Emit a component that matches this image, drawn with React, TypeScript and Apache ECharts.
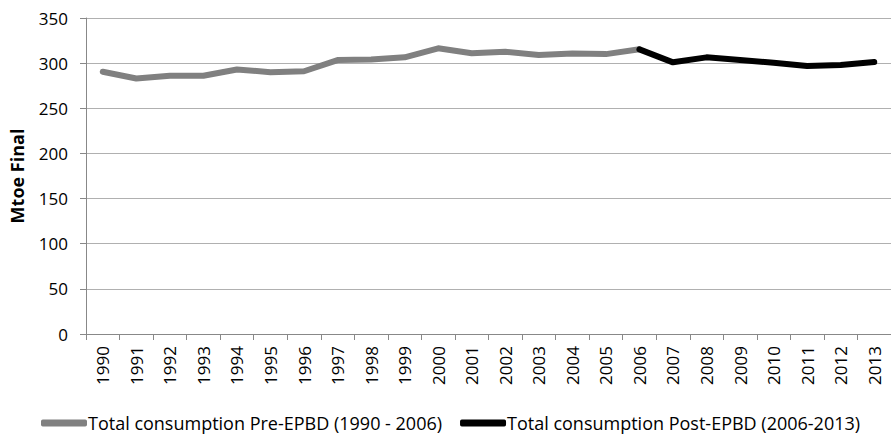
import React, { useEffect, useRef } from "react";
import * as echarts from "echarts";

const years = ["1990","1991","1992","1993","1994","1995","1996","1997","1998","1999","2000","2001","2002","2003","2004","2005","2006","2007","2008","2009","2010","2011","2012","2013"];
const preEPBD = [290.5, 283, 286, 286, 293, 290, 291, 303.4, 304, 306.4, 316.4, 311, 312.6, 309, 310.8, 310, 315.3, null, null, null, null, null, null, null];
const postEPBD = [null, null, null, null, null, null, null, null, null, null, null, null, null, null, null, null, 315.3, 300.9, 306.4, 303.4, 300.5, 296.8, 298, 301.2];
const yTicks = { min: 0, max: 350, interval: 50 };

const FONT = "Open Sans";

export default function App() {
  const ref = useRef<HTMLDivElement>(null);
  useEffect(() => {
    const chart = echarts.init(ref.current!, undefined, { renderer: "svg" });
    chart.setOption({
      animation: false,
      backgroundColor: "#ffffff",
      textStyle: { fontFamily: FONT },
      grid: { left: 86, right: -9, top: 18, bottom: 100, containLabel: false },
      legend: {
        left: 36,
        top: 409,
        itemWidth: 46,
        itemHeight: 7,
        itemGap: 18,
        icon: "roundRect",
        textStyle: { fontFamily: FONT, fontSize: 18, color: "#000", padding: [0, 0, 0, -4] },
        data: ["Total consumption Pre-EPBD (1990 - 2006)", "Total consumption Post-EPBD (2006-2013)"],
      },
      xAxis: {
        type: "category",
        data: years,
        boundaryGap: true,
        axisLine: { lineStyle: { color: "#888", width: 1 } },
        axisTick: { show: true, length: 6, lineStyle: { color: "#888" } },
        axisLabel: { rotate: 90, interval: 0, fontSize: 17, color: "#000", fontFamily: FONT, margin: 12 },
      },
      yAxis: {
        type: "value",
        min: yTicks.min,
        max: yTicks.max,
        interval: yTicks.interval,
        name: "Mtoe Final",
        nameLocation: "middle",
        nameGap: 60,
        nameRotate: 90,
        nameTextStyle: { fontFamily: FONT, fontSize: 18, fontWeight: "bold", color: "#000" },
        axisLine: { show: true, lineStyle: { color: "#888" } },
        axisTick: { show: true, length: 6, lineStyle: { color: "#888" } },
        axisLabel: { fontSize: 17, color: "#000", fontFamily: FONT, margin: 18 },
        splitLine: { lineStyle: { color: "#b0b0b0", width: 1 } },
      },
      series: [
        {
          name: "Total consumption Pre-EPBD (1990 - 2006)",
          type: "line",
          data: preEPBD,
          showSymbol: false,
          symbol: "none",
          lineStyle: { color: "#808080", width: 6, cap: "round", join: "round" },
          itemStyle: { color: "#808080" },
        },
        {
          name: "Total consumption Post-EPBD (2006-2013)",
          type: "line",
          data: postEPBD,
          showSymbol: false,
          symbol: "none",
          lineStyle: { color: "#000000", width: 6, cap: "round", join: "round" },
          itemStyle: { color: "#000000" },
        },
      ],
    });
    return () => chart.dispose();
  }, []);
  return (
    <div
      ref={ref}
      style={{ position: "absolute", left: 0, top: 0, width: 891, height: 434 }}
    />
  );
}
